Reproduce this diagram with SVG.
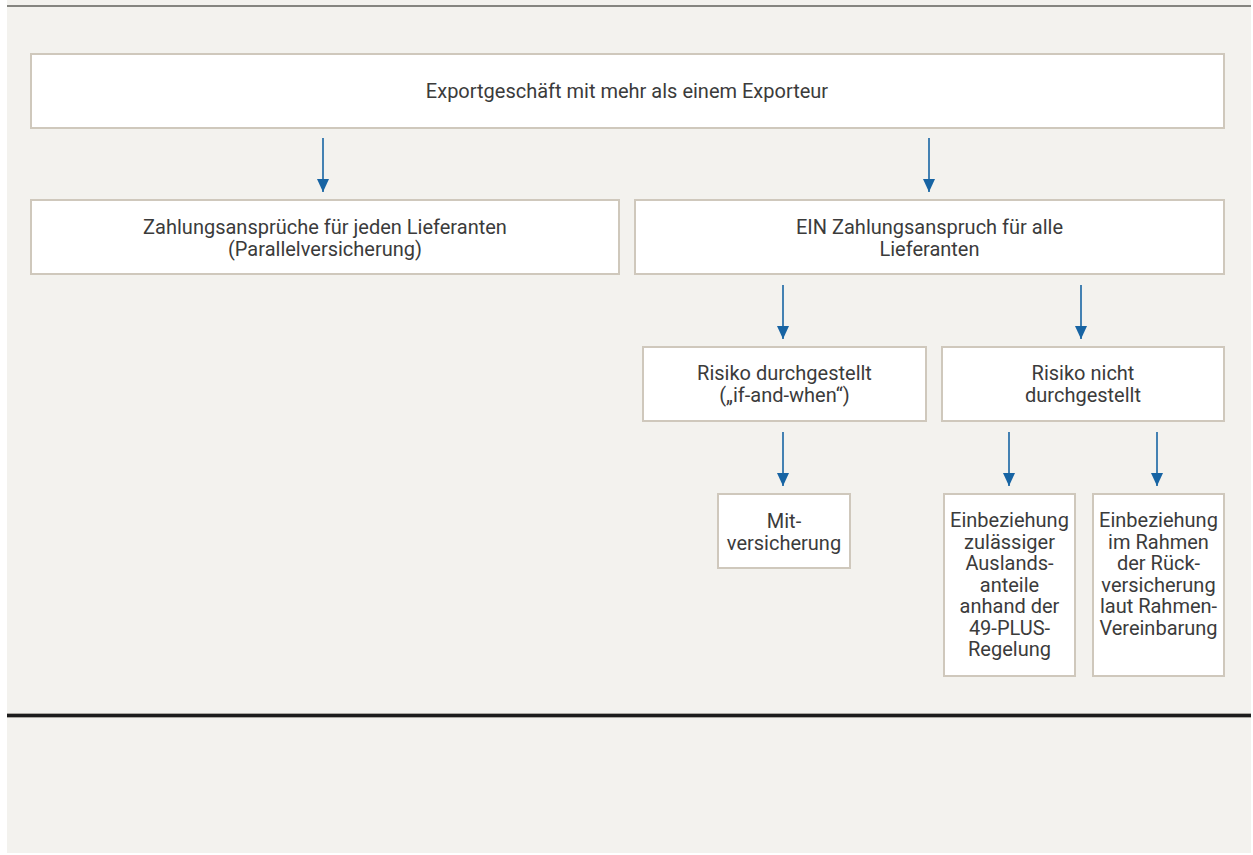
<svg xmlns="http://www.w3.org/2000/svg" width="1253" height="855" viewBox="0 0 1253 855">
  <defs>
    <style>
      .box { fill: #ffffff; stroke: #cfc8bc; stroke-width: 2; }
      .lbl { font-family: Roboto, "Liberation Sans", sans-serif; font-size: 20px; fill: #3b3b3b; text-anchor: middle; }
      .conn { stroke: #1764a3; stroke-width: 1.6; fill: none; marker-end: url(#arrow); }
    </style>
    <marker id="arrow" viewBox="0 0 13 12" refX="13" refY="6" markerWidth="13" markerHeight="12" markerUnits="userSpaceOnUse" orient="auto">
      <path d="M0,0 L13,6 L0,12 Z" fill="#1764a3"/>
    </marker>
  </defs>
  <rect x="0" y="0" width="1253" height="855" fill="#ffffff"/>
  <rect x="7" y="0" width="1244" height="853" fill="#f3f2ee"/>
  <rect x="7" y="5" width="1244" height="2" fill="#858580"/>
  <rect x="7" y="713" width="1244" height="5" fill="#a9a7a2"/>
  <rect x="7" y="714" width="1244" height="3" fill="#1c1c1c"/>

  <g id="n1">
    <rect class="box" x="31" y="54" width="1193" height="74"/>
    <text class="lbl" x="627" y="98">Exportgeschäft mit mehr als einem Exporteur</text>
  </g>
  <g id="n2">
    <rect class="box" x="31" y="200" width="588" height="74"/>
    <text class="lbl" x="325" y="234">Zahlungsansprüche für jeden Lieferanten</text>
    <text class="lbl" x="325" y="256">(Parallelversicherung)</text>
  </g>
  <g id="n3">
    <rect class="box" x="635" y="200" width="589" height="74"/>
    <text class="lbl" x="929.5" y="234">EIN Zahlungsanspruch für alle</text>
    <text class="lbl" x="929.5" y="256">Lieferanten</text>
  </g>
  <g id="n4">
    <rect class="box" x="643" y="347" width="283" height="74"/>
    <text class="lbl" x="784.5" y="380">Risiko durchgestellt</text>
    <text class="lbl" x="784.5" y="402">(„if-and-when“)</text>
  </g>
  <g id="n5">
    <rect class="box" x="942" y="347" width="282" height="74"/>
    <text class="lbl" x="1083" y="380">Risiko nicht</text>
    <text class="lbl" x="1083" y="402">durchgestellt</text>
  </g>
  <g id="n6">
    <rect class="box" x="718" y="494" width="132" height="74"/>
    <text class="lbl" x="784" y="528">Mit-</text>
    <text class="lbl" x="784" y="549.5">versicherung</text>
  </g>
  <g id="n7">
    <rect class="box" x="944" y="494" width="131" height="182"/>
    <text class="lbl" x="1009.5" y="527">Einbeziehung</text>
    <text class="lbl" x="1009.5" y="548.5">zulässiger</text>
    <text class="lbl" x="1009.5" y="570">Auslands-</text>
    <text class="lbl" x="1009.5" y="591.5">anteile</text>
    <text class="lbl" x="1009.5" y="613">anhand der</text>
    <text class="lbl" x="1009.5" y="634.5">49-PLUS-</text>
    <text class="lbl" x="1009.5" y="656">Regelung</text>
  </g>
  <g id="n8">
    <rect class="box" x="1093" y="494" width="131" height="182"/>
    <text class="lbl" x="1158.5" y="527">Einbeziehung</text>
    <text class="lbl" x="1158.5" y="548.5">im Rahmen</text>
    <text class="lbl" x="1158.5" y="570">der Rück-</text>
    <text class="lbl" x="1158.5" y="591.5">versicherung</text>
    <text class="lbl" x="1158.5" y="613">laut Rahmen-</text>
    <text class="lbl" x="1158.5" y="634.5">Vereinbarung</text>
  </g>

  <g id="connectors">
    <line class="conn" x1="323" y1="138" x2="323" y2="192"/>
    <line class="conn" x1="929" y1="138" x2="929" y2="192"/>
    <line class="conn" x1="783" y1="285" x2="783" y2="339"/>
    <line class="conn" x1="1081" y1="285" x2="1081" y2="339"/>
    <line class="conn" x1="783" y1="432" x2="783" y2="486"/>
    <line class="conn" x1="1009" y1="432" x2="1009" y2="486"/>
    <line class="conn" x1="1157" y1="432" x2="1157" y2="486"/>
  </g>
</svg>
